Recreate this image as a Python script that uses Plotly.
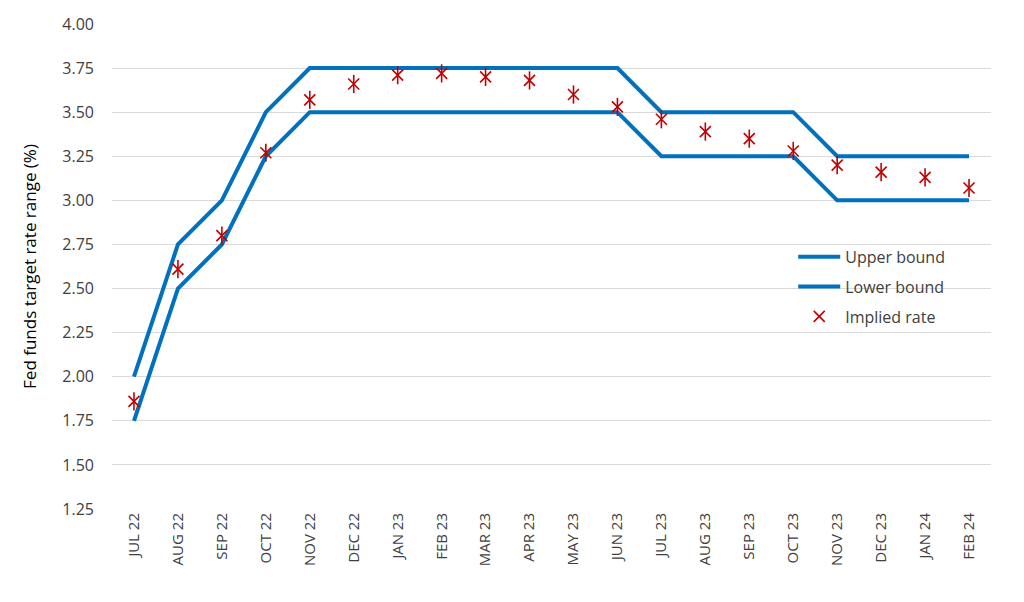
import plotly.graph_objects as go

months = ["JUL 22", "AUG 22", "SEP 22", "OCT 22", "NOV 22", "DEC 22", "JAN 23", "FEB 23",
          "MAR 23", "APR 23", "MAY 23", "JUN 23", "JUL 23", "AUG 23", "SEP 23", "OCT 23",
          "NOV 23", "DEC 23", "JAN 24", "FEB 24"]
upper_bound = [2.00, 2.75, 3.00, 3.50, 3.75, 3.75, 3.75, 3.75, 3.75, 3.75, 3.75, 3.75,
               3.50, 3.50, 3.50, 3.50, 3.25, 3.25, 3.25, 3.25]
lower_bound = [1.75, 2.50, 2.75, 3.25, 3.50, 3.50, 3.50, 3.50, 3.50, 3.50, 3.50, 3.50,
               3.25, 3.25, 3.25, 3.25, 3.00, 3.00, 3.00, 3.00]
implied_rate = [1.86, 2.61, 2.80, 3.27, 3.57, 3.66, 3.71, 3.72, 3.70, 3.68, 3.60, 3.53,
                3.46, 3.39, 3.35, 3.28, 3.20, 3.16, 3.13, 3.07]
y_ticks = [1.25, 1.50, 1.75, 2.00, 2.25, 2.50, 2.75, 3.00, 3.25, 3.50, 3.75, 4.00]

blue = "#0070C0"
red = "#C00000"
grey_text = "#404040"

fig = go.Figure()
fig.add_trace(go.Scatter(x=months, y=upper_bound, mode="lines", name="Upper bound",
                         legendgroup="u", line=dict(color=blue, width=4)))
fig.add_trace(go.Scatter(x=months, y=lower_bound, mode="lines", name="Lower bound",
                         legendgroup="l", line=dict(color=blue, width=4)))
fig.add_trace(go.Scatter(x=months, y=implied_rate, mode="markers", name="Implied rate",
                         legendgroup="i", showlegend=False, hoverinfo="skip",
                         marker=dict(symbol="line-ns-open", size=13, color=red,
                                     line=dict(color=red, width=1.6))))
fig.add_trace(go.Scatter(x=months, y=implied_rate, mode="markers", name="Implied rate",
                         legendgroup="i",
                         marker=dict(symbol="x-thin-open", size=11, color=red,
                                     line=dict(color=red, width=1.6))))

fig.update_layout(
    width=1016, height=594,
    margin=dict(l=104, r=33, t=16, b=93),
    paper_bgcolor="white", plot_bgcolor="white",
    font=dict(family="Open Sans, Noto Sans, sans-serif", color=grey_text, size=16),
    legend=dict(x=0.775, y=0.555, xanchor="left", yanchor="top",
                bgcolor="rgba(0,0,0,0)", font=dict(size=16, color=grey_text),
                traceorder="grouped", tracegroupgap=6, itemwidth=42),
    showlegend=True,
)
fig.update_xaxes(type="category", range=[-0.5, len(months) - 0.5], automargin=False,
                 tickangle=-90, showgrid=False, showline=False,
                 ticks="", tickfont=dict(size=15, color=grey_text))
fig.update_yaxes(range=[1.25, 4.0], tickvals=y_ticks, tickformat=".2f", automargin=False,
                 showgrid=True, gridcolor="#D9D9D9", gridwidth=1, zeroline=False,
                 showline=False, ticks="", ticklabelstandoff=17,
                 tickfont=dict(size=16, color=grey_text),
                 title=dict(text="Fed funds target rate range (%)",
                            font=dict(size=17, color="black"), standoff=21))

fig.write_html("out.html")
